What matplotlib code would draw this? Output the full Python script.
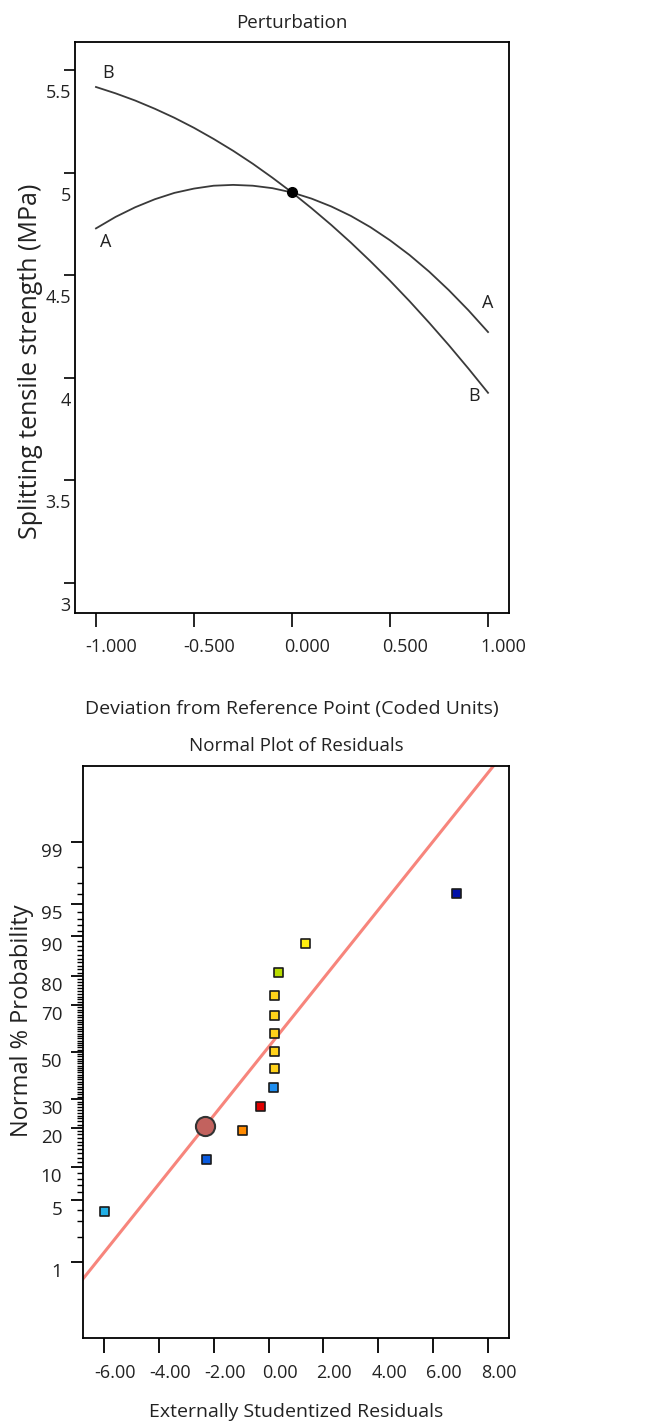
import matplotlib
matplotlib.use('Agg')
import matplotlib.pyplot as plt
import matplotlib.transforms as mtransforms
from matplotlib.ticker import FixedLocator, NullFormatter
import numpy as np
from statistics import NormalDist

plt.rcParams['font.family'] = ['Open Sans', 'DejaVu Sans']
TXT = '#222222'

# --- Perturbation data (coded deviation vs splitting tensile strength, MPa)
dev = [-1.0, -0.9, -0.8, -0.7, -0.6, -0.5, -0.4, -0.3, -0.2, -0.1, 0.0,
       0.1, 0.2, 0.3, 0.4, 0.5, 0.6, 0.7, 0.8, 0.9, 1.0]
curve_a = [4.728, 4.784, 4.831, 4.870, 4.901, 4.922, 4.936, 4.940, 4.936, 4.924, 4.903,
           4.873, 4.835, 4.789, 4.734, 4.670, 4.598, 4.517, 4.427, 4.329, 4.223]
curve_b = [5.417, 5.386, 5.351, 5.311, 5.267, 5.218, 5.164, 5.106, 5.043, 4.975, 4.903,
           4.826, 4.745, 4.659, 4.568, 4.473, 4.373, 4.268, 4.159, 4.045, 3.927]
ref_x, ref_y = 0.0, 4.903
pert_yticks = [3, 3.5, 4, 4.5, 5, 5.5]
pert_ylabels = ['3', '3.5', '4', '4.5', '5', '5.5']
pert_xticks = [-1.0, -0.5, 0.0, 0.5, 1.0]
pert_xlabels = ['-1.000', '-0.500', '0.000', '0.500', '1.000']

# --- Normal plot of residuals
resid = [-5.99, -2.26, -0.96, -0.28, 0.19, 0.23, 0.23, 0.23, 0.23, 0.23, 0.36, 1.35, 6.86]
prob = [3.86, 11.6, 19.2, 27.1, 34.8, 42.6, 50.4, 58.0, 65.7, 73.5, 81.0, 88.5, 96.1]
colors = ['#22B0E6', '#0A5BE0', '#FF8A00', '#E00000', '#1E8EF0', '#FFD21A', '#FFD21A',
          '#FFD21A', '#FFD21A', '#FFD21A', '#B8DC00', '#FFEE10', '#0010A8']
hl_x, hl_p = [-2.31], [20.5]
line_x = [-6.8, 8.3]
line_p = [0.57, 99.934]
prob_ticks = [1, 5, 10, 20, 30, 50, 70, 80, 90, 95, 99]
res_xticks = [-6, -4, -2, 0, 2, 4, 6, 8]
res_xlabels = ['-6.00', '-4.00', '-2.00', '0.00', '2.00', '4.00', '6.00', '8.00']

nd = NormalDist()


def probit(p):
    p = np.clip(np.asarray(p, dtype=float), 1e-7, 100 - 1e-7)
    return np.vectorize(lambda v: nd.inv_cdf(v / 100.0))(p)


def cdf(z):
    z = np.asarray(z, dtype=float)
    return np.vectorize(lambda v: nd.cdf(v) * 100.0)(z)


def shift_labels(labels, fig, dx, dy):
    off = mtransforms.ScaledTranslation(dx / 100.0, dy / 100.0, fig.dpi_scale_trans)
    for lab in labels:
        lab.set_transform(lab.get_transform() + off)


fig = plt.figure(figsize=(6.51, 14.25), dpi=100)

# ---------------- top: perturbation
ax1 = fig.add_axes([0.1152, 0.5698, 0.6667, 0.4007])
ax1.plot(dev, curve_a, color='#3a3a3a', lw=1.3)
ax1.plot(dev, curve_b, color='#3a3a3a', lw=1.3)
ax1.plot([ref_x], [ref_y], 'o', color='black', ms=7)
ax1.text(-0.94, 5.485, 'B', fontsize=13, color=TXT, ha='center', va='center')
ax1.text(-0.95, 4.66, 'A', fontsize=13, color=TXT, ha='center', va='center')
ax1.text(1.0, 4.364, 'A', fontsize=13, color=TXT, ha='center', va='center')
ax1.text(0.93, 3.913, 'B', fontsize=13, color=TXT, ha='center', va='center')
ax1.set_xlim(-1.107, 1.107)
ax1.set_ylim(2.854, 5.636)
ax1.set_yticks(pert_yticks)
ax1.set_yticklabels(pert_ylabels)
ax1.set_xticks(pert_xticks)
ax1.set_xticklabels(pert_xlabels)
ax1.tick_params(axis='y', length=8, width=1.2, pad=0, labelsize=13, labelcolor=TXT)
ax1.tick_params(axis='x', length=10, width=1.2, pad=8, labelsize=13, labelcolor=TXT)
shift_labels(ax1.get_yticklabels(), fig, 7, -21)
shift_labels(ax1.get_xticklabels(), fig, 15, 0)
for s in ax1.spines.values():
    s.set_linewidth(1.3)
ax1.set_title('Perturbation', fontsize=13.5, color=TXT, pad=10)
ax1.set_xlabel('Deviation from Reference Point (Coded Units)', fontsize=14, color=TXT)
ax1.xaxis.set_label_coords(0.5, -0.152)
ax1.set_ylabel('Splitting tensile strength (MPa)', fontsize=18, color=TXT)
ax1.yaxis.set_label_coords(-0.074, 0.44)

# ---------------- bottom: normal plot of residuals
ax2 = fig.add_axes([0.1275, 0.0611, 0.6544, 0.4014])
ax2.set_yscale('function', functions=(probit, cdf))
ax2.plot(line_x, line_p, color='#F7857C', lw=2.2, zorder=2)
ax2.scatter(resid, prob, marker='s', s=42, c=colors, edgecolors='#1a1a1a',
            linewidths=1.2, zorder=3)
ax2.scatter(hl_x, hl_p, marker='o', s=190, c='#C2625E', edgecolors='#333333',
            linewidths=1.5, zorder=4)
ax2.set_xlim(-6.77, 8.77)
ax2.set_ylim(0.075, 99.925)
ax2.yaxis.set_major_locator(FixedLocator(prob_ticks))
ax2.set_yticklabels([str(t) for t in prob_ticks])
minor = [v for v in range(1, 100) if v not in prob_ticks]
ax2.yaxis.set_minor_locator(FixedLocator(minor))
ax2.yaxis.set_minor_formatter(NullFormatter())
ax2.set_xticks(res_xticks)
ax2.set_xticklabels(res_xlabels)
ax2.tick_params(axis='y', which='major', length=9, width=1.3, pad=6, labelsize=13.5, labelcolor=TXT)
ax2.tick_params(axis='y', which='minor', length=4, width=1.0)
ax2.tick_params(axis='x', length=11, width=1.3, pad=8, labelsize=13, labelcolor=TXT)
shift_labels(ax2.get_yticklabels(), fig, 0, -8)
shift_labels(ax2.get_xticklabels(), fig, 11, 0)
for s in ax2.spines.values():
    s.set_linewidth(1.3)
ax2.set_title('Normal Plot of Residuals', fontsize=13.5, color=TXT, pad=11)
ax2.set_xlabel('Externally Studentized Residuals', fontsize=14, color=TXT)
ax2.xaxis.set_label_coords(0.5, -0.114)
ax2.set_ylabel('Normal % Probability', fontsize=17, color=TXT)
ax2.yaxis.set_label_coords(-0.115, 0.554)

fig.savefig('out.png', dpi=100)
